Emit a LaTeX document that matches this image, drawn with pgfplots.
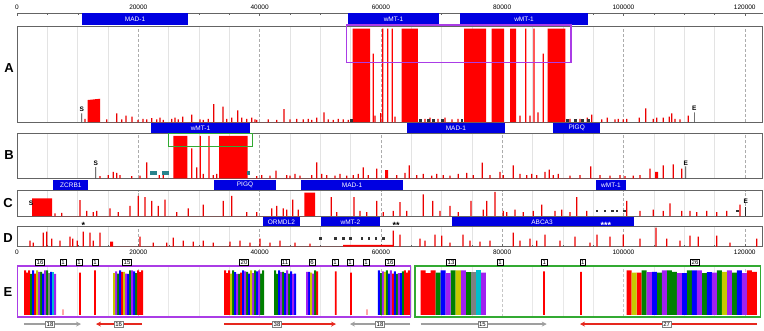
\documentclass[border=0pt]{standalone}
\usepackage{fontspec}
\setmainfont{Liberation Sans}
\usepackage{pgfplots}
\pgfplotsset{compat=1.18}
\usetikzlibrary{arrows.meta}
\definecolor{gblue}{RGB}{0,0,225}
\definecolor{cR}{RGB}{255,0,0}
\definecolor{cG}{RGB}{0,128,0}
\definecolor{cB}{RGB}{0,0,255}
\definecolor{cP}{RGB}{160,32,240}
\definecolor{cY}{RGB}{200,200,0}
\definecolor{cA}{RGB}{128,128,128}
\definecolor{cC}{RGB}{0,190,205}
\definecolor{boxM}{RGB}{170,60,230}
\definecolor{boxG}{RGB}{50,170,50}
\definecolor{spk}{RGB}{235,0,0}
\definecolor{frm}{RGB}{100,100,100}
\definecolor{teal2}{RGB}{40,130,140}
\definecolor{arrR}{RGB}{230,40,30}
\newcommand{\tf}{\fontsize{6.5}{7}\selectfont}
\pgfplotsset{
 base/.style={scale only axis, width=745.7pt, xmin=0, xmax=122960, clip=false, scaled x ticks=false, scaled y ticks=false},
 panel/.style={base, ymin=0,
   xtick={0,20000,40000,60000,80000,100000,120000},
   minor xtick={5000,10000,15000,25000,30000,35000,45000,50000,55000,65000,70000,75000,85000,90000,95000,105000,110000,115000},
   ytick=\empty, xmajorgrids, xminorgrids, yminorgrids,
   major grid style={densely dashed, gray!65}, minor grid style={gray!22},
   axis line style={frm, line width=0.7pt}, major tick length=0pt, minor tick length=0pt},
 genes/.style={base, height=10pt, ymin=0, ymax=1, hide axis},
 spikes/.style={ybar, bar width=200, bar shift=0pt, fill=spk, draw=none},
 blocks/.style={fill=red, draw=none},
 fulls/.style={ybar, bar width=200, bar shift=0pt, fill=red, draw=none},
 sline/.style={ybar, bar width=110, bar shift=0pt, fill=gray!30!black, draw=none},
 prim/.style={only marks, mark=square*, mark size=0.9pt, gray!40!black},
 nb/.style={ybar, bar width=330, bar shift=0pt, draw=none},
 wb/.style={ybar, bar width=825, bar shift=0pt, draw=none},
}
\newcommand{\gene}[4]{\fill[gblue] (axis cs:#1,0) rectangle (axis cs:#2,1); \node[white, font=\tf] at (axis cs:#3,0.5) {#4};}
\newcommand{\lab}[3]{\node[font=\fontsize{6.5}{7}\selectfont\bfseries, inner sep=0pt] at (axis cs:#1,#2) {#3};}
\newcommand{\cnt}[2]{\node[draw=black, fill=white, inner sep=1.1pt, font=\fontsize{6}{6}\selectfont] at (axis cs:#1,1.19) {#2};}
\newcommand{\arl}[2]{\node[draw=gray, fill=white, inner sep=1.1pt, font=\fontsize{6}{6}\selectfont] at (axis cs:#1,-0.21) {#2};}
\begin{document}
\begin{tikzpicture}
% ---------- top ruler with genes
\begin{axis}[base, at={(17pt,305pt)}, anchor=south west, height=11.7pt, ymin=0, ymax=1,
  axis x line=top, axis y line=none, x axis line style={-, frm, line width=0.7pt},
  xtick={0,20000,40000,60000,80000,100000,120000},
  xticklabels={0,20000,40000,60000,80000,100000,120000},
  minor xtick={5000,10000,15000,25000,30000,35000,45000,50000,55000,65000,70000,75000,85000,90000,95000,105000,110000,115000},
  tick align=inside, major tick length=3pt, minor tick length=2pt, tick style={frm},
  xticklabel style={font=\tf}]
\addplot[draw=none] coordinates {(0,0)};
\gene{10720}{28200}{19460}{MAD-1}
\gene{54580}{69590}{62085}{wMT-1}
\gene{73050}{94160}{83605}{wMT-1}
\end{axis}
% ---------- panel A
\begin{axis}[panel, at={(17pt,208pt)}, anchor=south west, height=96pt, ymax=4.5, minor ytick={1,2,3,4}, xticklabels={}]
\addplot[blocks] coordinates {(11660,0)(11660,1.03)(13690,1.09)(13690,0)(55360,0)(55360,4.38)(58210,4.38)(58210,0)(63440,0)(63440,4.38)(66080,4.38)(66080,0)(73710,0)(73710,4.38)(77340,4.38)(77340,0)(78280,0)(78280,4.38)(80310,4.38)(80310,0)(81300,0)(81300,4.38)(82290,4.38)(82290,0)(87510,0)(87510,4.38)(90410,4.38)(90410,0)} \closedcycle;
\addplot[fulls] coordinates {(58750,3.2)(60300,4.38)(61130,4.38)(61890,4.38)(83880,4.38)(85250,4.38)(86790,3.2)};
\addplot[spikes] coordinates {(11210,0.15)(14790,0.12)(16440,0.41)(17265,0.12)(17974,0.3)(18964,0.25)(19953,0.1)(20777,0.15)(21388,0.12)(22212,0.18)(23037,0.12)(23581,0.2)(24125,0.1)(25510,0.15)(26054,0.2)(26598,0.12)(27324,0.25)(28808,0.35)(30177,0.12)(30721,0.1)(31546,0.15)(32436,0.84)(33969,0.72)(34580,0.15)(35404,0.2)(36393,0.55)(37053,0.2)(37877,0.15)(38702,0.2)(39246,0.12)(39527,0.1)(41440,0.12)(42825,0.1)(44028,0.6)(45018,0.12)(46123,0.15)(47211,0.12)(48036,0.15)(48596,0.1)(49421,0.2)(50624,0.45)(51333,0.12)(52158,0.1)(52982,0.15)(53807,0.12)(54631,0.1)(59034,0.3)(59974,0.42)(62332,0.25)(67279,0.15)(68104,0.2)(69423,0.15)(70577,0.2)(71732,0.12)(72721,0.15)(82945,0.3)(84594,0.3)(85913,0.45)(91190,0.15)(92014,0.12)(92839,0.15)(94042,0.2)(94768,0.35)(96417,0.12)(97340,0.2)(98610,0.12)(99154,0.15)(99979,0.12)(100540,0.15)(102617,0.2)(103673,0.64)(104926,0.15)(105487,0.2)(106575,0.2)(107564,0.25)(107960,0.4)(108504,0.15)(109329,0.12)(110697,0.3)};
\addplot[prim] coordinates {(55077,0.1)(66456,0.1)(67775,0.1)(68598,0.1)(70082,0.1)(73331,0.1)(90695,0.1)(92014,0.1)(93169,0.1)(94158,0.1)};
\addplot[sline] coordinates {(10669,0.4)(111687,0.45)};
\lab{10669}{0.62}{S}
\lab{111687}{0.64}{E}
\draw[boxM, line width=1.2pt] (axis cs:54370,2.80) rectangle (axis cs:91350,4.55);
\end{axis}
% ---------- genes A/B
\begin{axis}[genes, at={(17pt,196.7pt)}, anchor=south west]
\addplot[draw=none] coordinates {(0,0)};
\gene{22100}{38420}{30260}{wMT-1}
\gene{64260}{80470}{72365}{MAD-1}
\gene{88440}{96140}{92290}{PIGQ}
\end{axis}
% ---------- panel B
\begin{axis}[panel, at={(17pt,151.7pt)}, anchor=south west, height=45pt, ymax=2.083, minor ytick={1,2}, xticklabels={}]
\addplot[blocks] coordinates {(25774,0)(25774,1.96)(28082,1.96)(28082,0)(33310,0)(33310,1.96)(38042,1.96)(38042,0)(60690,0)(60690,0.38)(61190,0.38)(61190,0)(105206,0)(105206,0.3)(105701,0.3)(105701,0)} \closedcycle;
\addplot[fulls] coordinates {(28808,1.39)(30226,1.96)(31661,1.96)};
\addplot[spikes] coordinates {(13687,0.1)(15055,0.15)(15880,0.3)(16440,0.25)(16985,0.15)(18914,0.1)(20283,0.12)(21388,0.74)(23465,0.15)(24125,0.2)(29633,0.5)(30721,0.2)(32370,0.15)(32931,0.2)(39527,0.1)(40351,0.15)(41720,0.12)(42709,0.35)(44474,0.15)(45018,0.12)(45842,0.2)(46667,0.12)(48596,0.15)(49421,0.74)(50245,0.2)(51069,0.15)(52438,0.12)(53263,0.2)(54368,0.12)(55456,0.15)(56280,0.2)(57105,0.5)(57929,0.15)(59315,0.45)(62613,0.15)(63981,0.25)(64690,0.6)(65911,0.15)(66999,0.2)(68384,0.12)(69209,0.2)(70297,0.15)(71402,0.12)(72770,0.2)(74156,0.25)(75244,0.15)(76728,0.72)(77998,0.15)(79647,0.3)(80191,0.15)(81840,0.6)(82945,0.2)(84050,0.15)(84874,0.2)(85699,0.15)(87067,0.3)(87776,0.4)(88436,0.15)(89260,0.2)(91190,0.12)(92839,0.15)(94603,0.55)(96137,0.15)(97786,0.12)(99435,0.15)(100259,0.1)(101628,0.12)(102733,0.15)(104382,0.45)(106575,0.6)(108224,0.65)(109609,0.45)};
\addplot[only marks, mark=square*, mark size=1.1pt, teal2] coordinates {(22100,0.26)(22700,0.26)(24100,0.26)(24700,0.26)(38092,0.26)};
\addplot[sline] coordinates {(12978,0.52)(110269,0.55)};
\lab{12978}{0.68}{S}
\lab{110269}{0.7}{E}
\draw[boxG, line width=1.2pt] (axis cs:24949,1.46) rectangle (axis cs:38801,2.083);
\end{axis}
% ---------- genes B/C
\begin{axis}[genes, at={(17pt,140pt)}, anchor=south west]
\addplot[draw=none] coordinates {(0,0)};
\gene{5990}{11760}{8875}{ZCRB1}
\gene{32490}{42710}{37600}{PIGQ}
\gene{46780}{63700}{55240}{MAD-1}
\gene{95480}{100380}{97930}{wMT-1}
\end{axis}
% ---------- panel C
\begin{axis}[panel, at={(17pt,114pt)}, anchor=south west, height=25.3pt, ymax=1, minor ytick={0.5}, xticklabels={}]
\addplot[blocks] coordinates {(2474,0)(2474,0.7)(5772,0.7)(5772,0)(47376,0)(47376,0.92)(49140,0.92)(49140,0)} \closedcycle;
\addplot[spikes] coordinates {(6266,0.1)(7371,0.12)(10389,0.63)(11494,0.2)(12582,0.15)(13143,0.2)(15336,0.3)(16704,0.15)(18634,0.4)(20003,0.8)(21107,0.75)(22212,0.6)(23300,0.4)(24405,0.65)(26335,0.15)(28247,0.3)(30721,0.45)(34019,0.6)(35404,0.8)(37877,0.15)(39527,0.15)(42000,0.3)(42825,0.4)(43913,0.3)(44474,0.25)(45463,0.65)(46386,0.25)(51828,0.75)(52719,0.15)(55571,0.75)(56561,0.2)(57666,0.15)(59315,0.6)(60403,0.15)(62052,0.2)(63157,0.55)(64262,0.2)(66999,0.85)(68549,0.6)(69753,0.2)(71402,0.4)(72770,0.15)(74865,0.6)(76894,0.25)(77453,0.6)(78822,0.95)(80191,0.2)(80752,0.15)(82120,0.25)(83489,0.15)(85138,0.2)(86523,0.45)(88716,0.2)(89821,0.25)(91190,0.15)(92295,0.75)(93944,0.2)(100540,0.6)(102733,0.2)(104926,0.25)(106575,0.2)(107680,0.5)(109609,0.2)(110977,0.2)(112083,0.15)(113732,0.2)(115381,0.15)(117030,0.2)(119223,0.45)};
\addplot[prim] coordinates {(95600,0.21)(96900,0.21)(98200,0.21)(98890,0.21)(100100,0.21)(118730,0.21)};
\addplot[sline] coordinates {(120163,0.35)};
\lab{2309}{0.5}{S}
\lab{120163}{0.58}{E}
\end{axis}
% ---------- genes C/D
\begin{axis}[genes, at={(17pt,103.3pt)}, anchor=south west, height=9.4pt]
\addplot[draw=none] coordinates {(0,0)};
\gene{40510}{46670}{43590}{ORMDL2}
\gene{50080}{59860}{54970}{wMT-2}
\gene{71680}{101740}{86570}{ABCA3}
\node[font=\fontsize{9}{9}\selectfont\bfseries] at (axis cs:10930,0.15) {*};
\node[font=\fontsize{9}{9}\selectfont\bfseries] at (axis cs:62500,0.15) {**};
\node[white, font=\fontsize{9}{9}\selectfont\bfseries] at (axis cs:97080,0.15) {***};
\end{axis}
% ---------- panel D
\begin{axis}[panel, at={(17pt,83.5pt)}, anchor=south west, height=19.8pt, ymax=1, minor ytick={0.5},
  xtick pos=left, tick align=inside, major tick length=2.5pt, minor tick length=1.5pt, tick style={frm},
  xticklabels={0,20000,40000,60000,80000,100000,120000},
  xticklabel style={font=\tf}]
\addplot[blocks] coordinates {(15336,0)(15336,0.25)(15830,0.25)(15830,0)(53756,0)(53756,0.08)(62004,0.08)(62004,0)} \closedcycle;
\addplot[spikes] coordinates {(2144,0.3)(2688,0.2)(4337,0.7)(4898,0.75)(5722,0.4)(7091,0.3)(8740,0.5)(9185,0.4)(9943,0.3)(10933,0.75)(12038,0.7)(12582,0.3)(13687,0.7)(20283,0.5)(22476,0.2)(24685,0.2)(25774,0.45)(27423,0.3)(29072,0.25)(30721,0.3)(32370,0.2)(35124,0.25)(36773,0.3)(38422,0.2)(40071,0.4)(41720,0.2)(43369,0.3)(45842,0.2)(48316,0.15)(62052,0.8)(63157,0.6)(66455,0.4)(67279,0.3)(68928,0.6)(70033,0.55)(71402,0.2)(73545,0.6)(74700,0.3)(76349,0.25)(77998,0.3)(81840,0.7)(82945,0.3)(84594,0.4)(85699,0.3)(87067,0.6)(89541,0.3)(92014,0.5)(94488,0.2)(95642,0.6)(97786,0.5)(99979,0.6)(102733,0.4)(105371,0.95)(107136,0.4)(109329,0.3)(110977,0.55)(112346,0.5)(115381,0.55)(117574,0.2)(121977,0.4)};
\addplot[prim] coordinates {(49960,0.4)(52438,0.4)(53756,0.4)(54911,0.4)(56840,0.4)(58000,0.4)(59150,0.4)(60400,0.4)};
\end{axis}
% ---------- panel E
\begin{axis}[base, at={(17pt,13pt)}, anchor=south west, height=51pt, ymin=-0.05, ymax=1.1,
  xtick={0,20000,40000,60000,80000,100000,120000},
  minor xtick={5000,10000,15000,25000,30000,35000,45000,50000,55000,65000,70000,75000,85000,90000,95000,105000,110000,115000},
  xticklabels={}, ytick=\empty, minor ytick={0.3,0.6}, xmajorgrids, xminorgrids, yminorgrids,
  major grid style={densely dashed, gray!45}, minor grid style={gray!18},
  axis line style={draw=none}, major tick length=0pt, minor tick length=0pt]
\addplot[nb, fill=cR] coordinates {(1320,1.0)(1650,0.95)(1980,1.0)(2970,0.93)(17315,0.97)(19955,1.0)(20285,0.96)(20615,1.0)(34300,1.0)(34630,0.94)(34960,1.0)(36940,0.95)(49470,0.98)(61975,0.93)(63955,1.0)(64285,0.95)(64615,1.0)};
\addplot[nb, fill=cG] coordinates {(2310,0.92)(3960,0.97)(4950,1.0)(16655,0.93)(18635,1.0)(19625,0.94)(35620,1.0)(36610,0.92)(37930,0.97)(39250,1.0)(40240,0.93)(40570,1.0)(42545,1.0)(42875,0.92)(43865,0.97)(44855,0.93)(49140,1.0)(59995,0.94)(60985,1.0)(62635,0.92)(63625,0.98)};
\addplot[nb, fill=cB] coordinates {(2640,1.0)(4290,0.93)(5610,0.97)(16985,1.0)(18305,0.92)(19295,0.98)(35950,0.96)(37270,1.0)(38260,0.93)(39580,0.98)(43205,1.0)(44195,0.94)(45185,0.98)(45845,0.93)(48150,0.97)(59665,1.0)(61315,0.93)(62305,0.98)(63295,0.94)};
\addplot[nb, fill=cP] coordinates {(3630,0.97)(4620,1.0)(6270,0.92)(16325,0.98)(17975,0.93)(18965,1.0)(36280,0.92)(37600,0.98)(38920,0.94)(39910,1.0)(43535,0.96)(44525,1.0)(45515,0.92)(47820,0.97)(48810,0.93)(60325,0.98)(61645,1.0)(62965,0.94)};
\addplot[nb, fill=cY] coordinates {(3300,1.0)(15995,0.94)(17645,0.97)(35290,0.93)(38590,1.0)(48480,0.95)(60655,0.97)};
\addplot[nb, fill=cA] coordinates {(5280,0.95)};
\addplot[nb, fill=cC] coordinates {(5940,0.97)};
\addplot[wb, fill=cR] coordinates {(66983,1.0)(67808,0.94)(68633,1.0)(100952,1.0)(102602,0.95)(120752,1.0)(121577,0.97)};
\addplot[wb, fill=cG] coordinates {(69458,0.95)(71933,1.0)(74408,0.96)(103427,1.0)(105902,0.95)(107552,1.0)(108377,0.97)(110852,1.0)(113327,0.94)(115802,1.0)(118277,0.95)};
\addplot[wb, fill=cB] coordinates {(70283,1.0)(105077,0.97)(110027,0.94)(111677,1.0)(114152,0.96)(119102,1.0)};
\addplot[wb, fill=cP] coordinates {(71108,0.94)(73583,1.0)(76883,0.95)(104252,0.96)(106727,1.0)(109202,0.94)(112502,1.0)(114977,0.95)(117452,1.0)(119927,0.94)};
\addplot[wb, fill=cY] coordinates {(72758,1.0)(101777,0.95)(116627,0.97)};
\addplot[wb, fill=cA] coordinates {(75233,0.96)};
\addplot[wb, fill=cC] coordinates {(76058,1.0)};
\addplot[ybar, bar width=260, bar shift=0pt, fill=red, draw=none] coordinates {(10389,0.95)(12862,1.0)(52554,0.98)(55077,0.95)(86902,0.98)(93004,0.97)};
\addplot[ybar, bar width=130, bar shift=0pt, fill=red, draw=none] coordinates {(7585,0.12)(57715,0.12)};
\draw[boxM, line width=1.4pt] (axis cs:50,-0.05) rectangle (axis cs:64870,1.1);
\draw[boxG, line width=1.4pt] (axis cs:65630,-0.05) rectangle (axis cs:122630,1.1);
\cnt{3793}{16}\cnt{7585}{1}\cnt{10224}{1}\cnt{12862}{1}\cnt{18139}{15}
\cnt{37432}{20}\cnt{44193}{11}\cnt{48646}{6}\cnt{52439}{1}\cnt{54911}{1}\cnt{57549}{1}\cnt{61508}{16}
\cnt{71567}{13}\cnt{79647}{1}\cnt{86952}{1}\cnt{93284}{1}\cnt{111802}{26}
\addplot[gray!75, line width=1.3pt, -{Stealth[length=5pt,width=5pt]}] coordinates {(1154,-0.21)(10554,-0.21)};
\addplot[arrR, line width=1.3pt, -{Stealth[length=5pt,width=5pt]}] coordinates {(20613,-0.21)(13027,-0.21)};
\addplot[arrR, line width=1.3pt, -{Stealth[length=5pt,width=5pt]}] coordinates {(34134,-0.21)(52604,-0.21)};
\addplot[gray!75, line width=1.3pt, -{Stealth[length=5pt,width=5pt]}] coordinates {(64806,-0.21)(54911,-0.21)};
\addplot[gray!75, line width=1.3pt, -{Stealth[length=5pt,width=5pt]}] coordinates {(66570,-0.21)(87347,-0.21)};
\addplot[arrR, line width=1.3pt, -{Stealth[length=5pt,width=5pt]}] coordinates {(122027,-0.21)(92839,-0.21)};
\arl{5442}{18}\arl{16770}{16}\arl{42874}{38}\arl{59860}{18}\arl{76730}{15}\arl{107137}{27}
\end{axis}
\node[font=\fontsize{13}{13}\selectfont\bfseries] at (9pt,262pt) {A};
\node[font=\fontsize{13}{13}\selectfont\bfseries] at (9pt,175pt) {B};
\node[font=\fontsize{13}{13}\selectfont\bfseries] at (8pt,127pt) {C};
\node[font=\fontsize{13}{13}\selectfont\bfseries] at (8pt,92pt) {D};
\node[font=\fontsize{13}{13}\selectfont\bfseries] at (8pt,38pt) {E};
\pgfresetboundingbox
\useasboundingbox (0pt,0pt) rectangle (764pt,330pt);
\end{tikzpicture}
\end{document}
